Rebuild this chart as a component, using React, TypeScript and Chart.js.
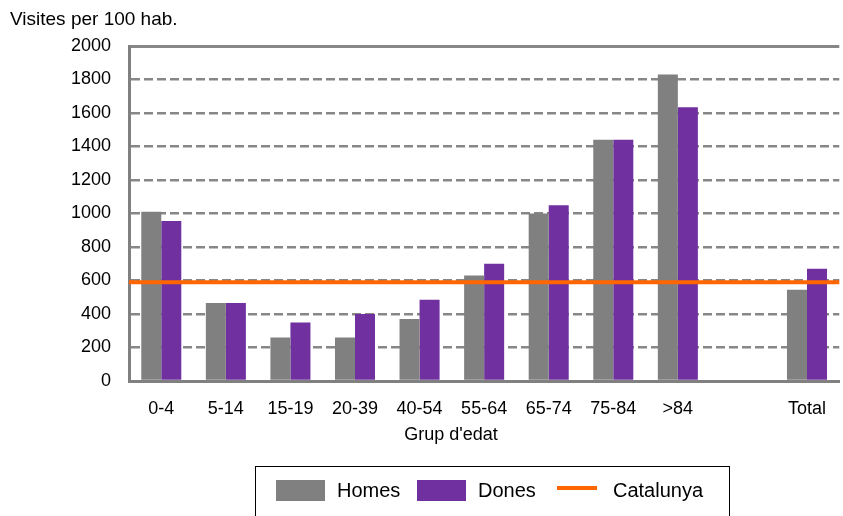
import React, { useEffect, useRef } from 'react';
import { Chart, registerables } from 'chart.js';

Chart.register(...registerables);

const categories = ['0-4', '5-14', '15-19', '20-39', '40-54', '55-64', '65-74', '75-84', '>84', '', 'Total'];
const homes: (number | null)[] = [1010, 465, 260, 260, 370, 630, 1000, 1440, 1830, null, 545];
const dones: (number | null)[] = [955, 465, 350, 400, 485, 700, 1050, 1440, 1635, null, 670];
const catalunya = 590;
const yMin = 0;
const yMax = 2000;
const yStep = 200;
const yTitle = 'Visites per 100 hab.';
const xTitle = "Grup d'edat";
const legendLabels = ['Homes', 'Dones', 'Catalunya'];

const FONT = "'Liberation Sans', Arial, sans-serif";
const GRAY = '#808080';
const PURPLE = '#7030A0';
const ORANGE = '#FF6600';

// Reference line drawn across the full plot area at the y-scale position of `catalunya`
const refLinePlugin = {
  id: 'refLine',
  afterDatasetsDraw(chart: any) {
    const { ctx, chartArea, scales } = chart;
    const y = scales.y.getPixelForValue(catalunya);
    ctx.save();
    ctx.strokeStyle = ORANGE;
    ctx.lineWidth = 4;
    ctx.beginPath();
    ctx.moveTo(chartArea.left, y);
    ctx.lineTo(chartArea.right, y);
    ctx.stroke();
    ctx.restore();
  },
};

export default function App() {
  const ref = useRef<HTMLCanvasElement>(null);

  useEffect(() => {
    const font = { family: FONT, size: 18 };
    const chart = new Chart(ref.current!, {
      type: 'bar',
      data: {
        labels: categories,
        datasets: [
          {
            label: legendLabels[0],
            data: homes,
            backgroundColor: GRAY,
            categoryPercentage: 0.62,
            barPercentage: 1,
          },
          {
            label: legendLabels[1],
            data: dones,
            backgroundColor: PURPLE,
            categoryPercentage: 0.62,
            barPercentage: 1,
          },
        ],
      },
      options: {
        responsive: false,
        animation: false,
        layout: { padding: { top: 46, left: 0, right: 0, bottom: 71 } },
        plugins: {
          legend: { display: false },
          tooltip: { enabled: false },
        },
        scales: {
          x: {
            grid: { display: false, drawTicks: false },
            border: { display: true, color: GRAY, width: 3 },
            ticks: { color: '#000', font, padding: 17, maxRotation: 0, autoSkip: false },
            title: { display: false },
            afterFit: (s: any) => {
              s.height = 64;
            },
          },
          y: {
            min: yMin,
            max: yMax,
            ticks: {
              stepSize: yStep,
              color: '#000',
              font,
              padding: 18,
              callback: (v: any) => String(v),
            },
            grid: {
              color: '#878787',
              lineWidth: (ctx: any) => (ctx.tick && ctx.tick.value === yMax ? 3 : 2.5),
              drawTicks: false,
            },
            border: {
              display: true,
              color: GRAY,
              width: 3,
              dash: (ctx: any) =>
                ctx.tick && (ctx.tick.value === yMax || ctx.tick.value === yMin) ? [] : [9, 4],
            },
            afterFit: (s: any) => {
              s.width = 129;
            },
          },
        } as any,
      },
      plugins: [refLinePlugin],
    });
    return () => chart.destroy();
  }, []);

  const txt: React.CSSProperties = {
    position: 'absolute',
    fontFamily: FONT,
    fontSize: 20,
    lineHeight: '22px',
    color: '#000',
    whiteSpace: 'nowrap',
  };

  return (
    <div style={{ position: 'fixed', left: 0, top: 0, width: 843, height: 516, overflow: 'hidden', background: '#fff' }}>
      <canvas ref={ref} width={843} height={516} style={{ position: 'absolute', left: 0, top: 0 }} />
      <div style={{ ...txt, left: 10, top: 9, fontSize: 19, lineHeight: '20px' }}>{yTitle}</div>
      <div style={{ ...txt, left: 351, width: 200, textAlign: 'center', top: 423, fontSize: 18, lineHeight: '22px' }}>
        {xTitle}
      </div>
      <div
        style={{
          position: 'absolute',
          left: 255,
          top: 466,
          width: 475,
          height: 60,
          border: '1px solid #000',
          boxSizing: 'border-box',
        }}
      />
      <div style={{ position: 'absolute', left: 276, top: 480, width: 49, height: 21, background: GRAY }} />
      <div style={{ ...txt, left: 337, top: 479 }}>{legendLabels[0]}</div>
      <div style={{ position: 'absolute', left: 417, top: 480, width: 49, height: 21, background: PURPLE }} />
      <div style={{ ...txt, left: 478, top: 479 }}>{legendLabels[1]}</div>
      <div style={{ position: 'absolute', left: 557, top: 486, width: 40, height: 4, background: ORANGE }} />
      <div style={{ ...txt, left: 613, top: 479 }}>{legendLabels[2]}</div>
    </div>
  );
}
